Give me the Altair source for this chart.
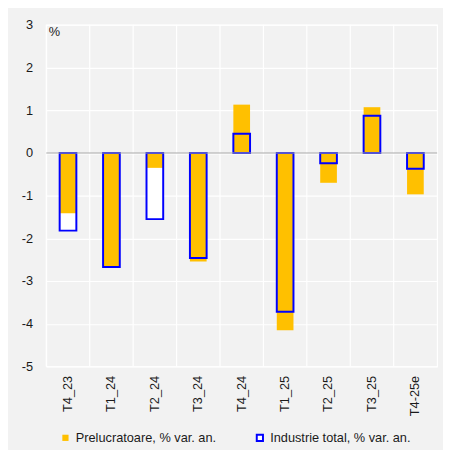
import altair as alt
import pandas as pd

categories = ["T4_23", "T1_24", "T2_24", "T3_24", "T4_24", "T1_25", "T2_25", "T3_25", "T4-25e"]
prelucratoare = [-1.41, -2.68, -0.35, -2.54, 1.13, -4.15, -0.70, 1.07, -0.97]
industrie = [-1.82, -2.67, -1.55, -2.46, 0.45, -3.72, -0.24, 0.87, -0.37]
s_prel = "Prelucratoare, % var. an."
s_ind = "Industrie total, % var. an."
y_ticks = [-5, -4, -3, -2, -1, 0, 1, 2, 3]

df = pd.DataFrame(
    [{"cat": c, "series": s_prel, "value": v} for c, v in zip(categories, prelucratoare)]
    + [{"cat": c, "series": s_ind, "value": v} for c, v in zip(categories, industrie)]
)
cats_df = pd.DataFrame({"cat": categories})
zero_df = pd.DataFrame({"y": [0]})

FONT = "Liberation Sans"
TXT = "#1a1a1a"

x_enc = alt.X(
    "cat:N",
    sort=categories,
    scale=alt.Scale(paddingInner=0, paddingOuter=0),
    axis=alt.Axis(
        title=None, labelAngle=-90, labelPadding=9, domain=False, ticks=False,
        grid=False, labelFontSize=13, labelColor=TXT, labelFont=FONT,
    ),
)
y_enc = alt.Y(
    "value:Q",
    scale=alt.Scale(domain=[-5, 3], nice=False),
    axis=alt.Axis(
        values=y_ticks, title="%", titleAngle=0, titleAlign="left", titleBaseline="top",
        titleX=2, titleY=1, titleFontWeight="normal", titleFontSize=13, titleFont=FONT,
        titleColor=TXT, domain=False, ticks=False, labelPadding=14, labelFontSize=13,
        labelColor=TXT, labelFont=FONT, gridColor="white", gridWidth=1.2, gridOpacity=1,
        labelExpr="datum.value + ''",
    ),
)

series_domain = [s_prel, s_ind]
fill_scale = alt.Scale(domain=series_domain, range=["#ffc000", "#ffffff"])
stroke_scale = alt.Scale(domain=series_domain, range=["transparent", "#0000ff"])
legend = alt.Legend(
    title=None, orient="none", direction="horizontal", legendX=13, legendY=414,
    symbolType="square", symbolSize=40, symbolStrokeWidth=2, labelFontSize=13,
    labelFont=FONT, labelColor=TXT, columnPadding=36, labelLimit=300, padding=0,
    symbolOpacity=1,
)

vgrid = alt.Chart(cats_df).mark_rule(color="white", strokeWidth=1.2).encode(
    x=alt.X("cat:N", sort=categories, bandPosition=0)
)

white_fill = alt.Chart(df).transform_filter(alt.datum.series == s_ind).mark_bar(
    size=17, color="white"
).encode(x=x_enc, y=y_enc)

orange = alt.Chart(df).transform_filter(alt.datum.series == s_prel).mark_bar(
    size=17, strokeWidth=0
).encode(
    x=x_enc, y=y_enc,
    fill=alt.Fill("series:N", scale=fill_scale, legend=legend),
    stroke=alt.Stroke("series:N", scale=stroke_scale, legend=legend),
)

outline = alt.Chart(df).transform_filter(alt.datum.series == s_ind).mark_bar(
    size=17, fillOpacity=0, strokeWidth=2
).encode(
    x=x_enc, y=y_enc,
    stroke=alt.Stroke("series:N", scale=stroke_scale, legend=legend),
)

zero = alt.Chart(zero_df).mark_rule(color="#a8a8a8", strokeWidth=2, opacity=0.5).encode(
    y="y:Q"
)

chart = alt.layer(vgrid, white_fill, orange, outline, zero).properties(
    width=398, height=348,
    autosize=alt.AutoSizeParams(type="none"),
    padding={"left": 39, "top": 13, "right": 6, "bottom": 81},
    background="#f2f2f2",
).configure_view(stroke="white", strokeWidth=1.2, fill="#f2f2f2")

chart.save("out.html", embed_options={"renderer": "svg", "actions": False})
